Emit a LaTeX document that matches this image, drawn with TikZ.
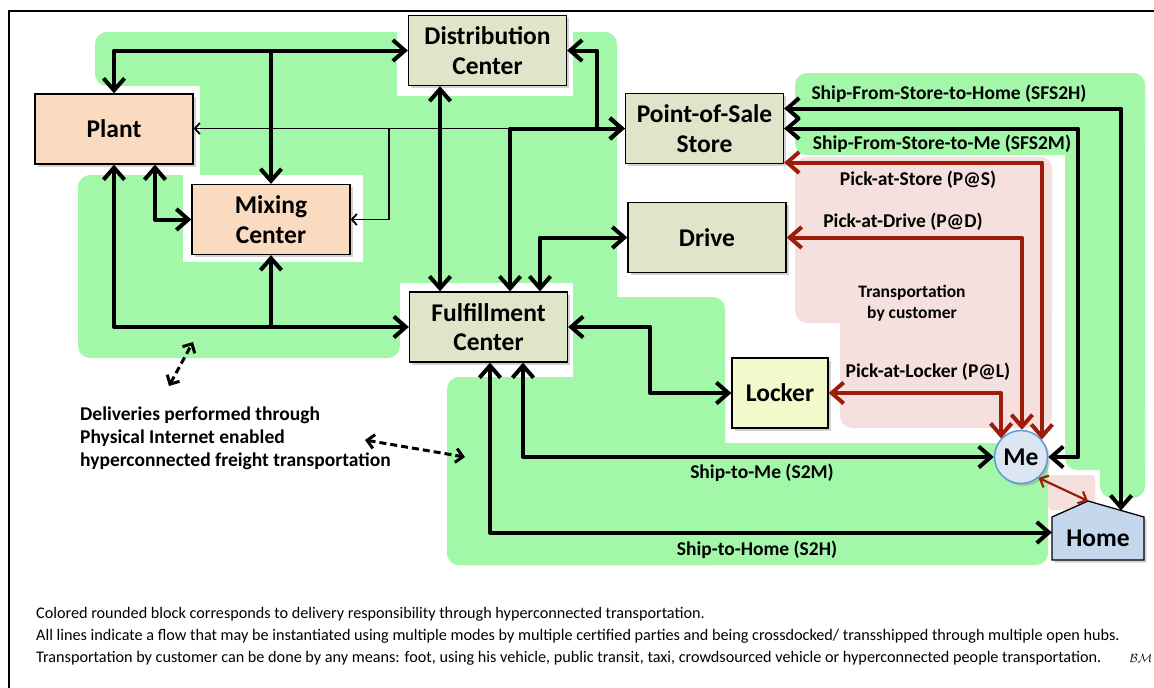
\documentclass[tikz,border=0pt]{standalone}
\usepackage{fontspec}
\setmainfont{Carlito}
\usetikzlibrary{arrows.meta,shadows,calc}

\definecolor{blockgreen}{HTML}{A3F7A9}
\definecolor{custpink}{HTML}{F5E0DE}
\definecolor{peach}{HTML}{FBDBC0}
\definecolor{olive}{HTML}{DEE5C9}
\definecolor{lockeryellow}{HTML}{F3F9CB}
\definecolor{mefill}{HTML}{DCE6F2}
\definecolor{meline}{HTML}{5B9BD5}
\definecolor{homefill}{HTML}{C5D7EC}
\definecolor{pickred}{HTML}{9E1C0A}

\begin{document}
\begin{tikzpicture}[x=1pt,y=-1pt,
  boxshadow/.style={drop shadow={shadow xshift=2.5pt,shadow yshift=-2.5pt,opacity=0.35}},
  box/.style={draw=black,line width=1.3pt,minimum width=158pt,minimum height=70pt,
    inner sep=0pt,align=center,font=\bfseries\fontsize{25.5}{29.5}\selectfont,
    text depth=-5pt,boxshadow},
  lbl/.style={font=\bfseries\fontsize{19.5}{22}\selectfont,inner sep=0pt},
  flow/.style={line width=4pt,line join=round,>={Straight Barb[length=12pt,width=21pt]}},
  thinflow/.style={line width=1.8pt,>={Straight Barb[length=5pt,width=11pt]}},
  redflow/.style={draw=pickred,line width=4pt,line join=round,>={Straight Barb[length=12pt,width=21pt]}},
  redthin/.style={draw=pickred,line width=2.2pt,>={Straight Barb[length=7pt,width=13pt]}},
  dashflow/.style={line width=3pt,dash pattern=on 7pt off 4pt,>={Straight Barb[length=7pt,width=14pt]}},
  greenblock/.style={fill=blockgreen,rounded corners=12pt},
  pinkblock/.style={fill=custpink,rounded corners=12pt}
]
\useasboundingbox (0,0) rectangle (1154,688);
\fill[white] (0,0) rectangle (1154,688);

% hyperconnected delivery blocks
\fill[greenblock] (95,32) rectangle (397,86);
\fill[greenblock] (200,32) rectangle (617,310);
\fill[greenblock] (78,175) rectangle (400,358);
\fill[greenblock] (573,297) rectangle (725,450);
\fill[greenblock] (447,377) rectangle (725,565);
\fill[greenblock] (447,443) rectangle (1048,565);
\fill[greenblock] (795,73) rectangle (1145,155);
\fill[greenblock] (1065,73) rectangle (1145,470);
\fill[greenblock] (1100,400) rectangle (1145,498);

% customer transportation blocks
\fill[pinkblock] (795,157) rectangle (1052,323);
\fill[pinkblock] (840,157) rectangle (1052,428);
\fill[custpink,rounded corners=4pt] (1048,475) rectangle (1095,510);

% clear margins around some facilities
\fill[white] (397,13) rectangle (573,96);
\fill[white] (183,175) rectangle (363,262);
\fill[white] (400,283) rectangle (573,377);

% facilities
\node[box,fill=peach] (plant) at (114,129) {Plant};
\node[box,fill=peach] (mix) at (271,219.5) {Mixing\\Center};
\node[box,fill=olive] (dist) at (487.5,50.5) {Distribution\\Center};
\node[box,fill=olive] (pos) at (704.5,128.5) {Point-of-Sale\\Store};
\node[box,fill=olive] (drive) at (707,237.5) {Drive};
\node[box,fill=olive] (fc) at (488.5,327) {Fulfillment\\Center};
\node[box,fill=lockeryellow,minimum width=96pt] (locker) at (780,393) {Locker};
\node[circle,draw=meline,line width=1.5pt,fill=mefill,minimum size=53pt,inner sep=0pt,
  font=\bfseries\fontsize{25.5}{29}\selectfont,boxshadow] (me) at (1021,457) {Me};

% home outline
\coordinate (hSW) at (1052,560);
\coordinate (hNW) at (1052,517);
\coordinate (hApex) at (1088,501);
\coordinate (hNE) at (1144,517);
\coordinate (hSE) at (1144,560);
\filldraw[fill=homefill,draw=black,line width=1.3pt,boxshadow]
  (hSW) -- (hNW) -- (hApex) -- (hNE) -- (hSE) -- cycle;
\node[minimum width=92pt,minimum height=43pt,inner sep=0pt,
  font=\bfseries\fontsize{25.5}{29}\selectfont] (home) at (1098,538.5) {Home};

% freight flows among facilities
\draw[thinflow,->] (pos.west) -- (pos.west -| plant.east);
\draw[thinflow,->] ([xshift=38pt]mix.east |- pos.west) |- (mix.east);
\draw[flow,<->] (plant.north) |- (dist.west);
\draw[flow,->] (mix.north |- dist.west) -- (mix.north);
\draw[flow,<->] (dist.east) -| ([xshift=-28pt]pos.west) -- (pos.west);
\draw[flow,<->] ([xshift=21.5pt]fc.north) |- (pos.west);
\draw[flow,<->] ([xshift=-47.5pt]dist.south) -- ([xshift=-47.5pt]dist.south |- fc.north);
\draw[flow,<->] ([xshift=51.5pt]fc.north) |- (drive.west);
\draw[flow,<->] ([xshift=41pt]plant.south) |- (mix.west);
\draw[flow,<->] (plant.south) |- (fc.west);
\draw[flow,->] (mix.south |- fc.west) -- (mix.south);
\draw[flow,<->] (fc.east) -- ++(82,0) |- (locker.west);

% deliveries to the customer
\draw[flow,<->] ([xshift=34.5pt]fc.south) |- (me.west);
\draw[flow,<->] ([xshift=1.5pt]fc.south) |- ([yshift=6pt]home.west);
\draw[flow,<->] ([yshift=20pt]pos.east) -| ($(hApex)!0.59!(hNE)$);
\draw[flow,<->] (pos.east) -- ++(294,0) |- (me.east);

% pick-up by the customer
\draw[redflow,<->] ([yshift=-34pt]pos.east) -| (me.40);
\draw[redflow,<->] (drive.east) -| (me.88);
\draw[redflow,<->] (locker.east) -| (me.137);
\draw[redthin,<->] (me.-50) -- (hApex);

% flow labels
\node[lbl] (lsfs2h) at (949,94) {Ship-From-Store-to-Home (SFS2H)};
\node[lbl] (lsfs2m) at (942,144) {Ship-From-Store-to-Me (SFS2M)};
\node[lbl] (lpas) at (918,180) {Pick-at-Store (P@S)};
\node[lbl] (lpad) at (903,222) {Pick-at-Drive (P@D)};
\node[lbl] (lpal) at (928,372) {Pick-at-Locker (P@L)};
\node[lbl] (ls2m) at (762,473) {Ship-to-Me (S2M)};
\node[lbl] (ls2h) at (757,550) {Ship-to-Home (S2H)};
\node[align=center,font=\bfseries\fontsize{17.5}{21}\selectfont,inner sep=0pt] (lcust) at (912,303.5)
  {Transportation\\by customer};

% explanation of the green blocks
\node[anchor=west,align=left,inner sep=0pt,font=\bfseries\fontsize{19.5}{23}\selectfont] (note) at (80,438)
  {Deliveries performed through\\Physical Internet enabled\\hyperconnected freight transportation};
\coordinate (dA1) at (169,386);
\coordinate (dA2) at (193,342);
\coordinate (dB1) at (365,440);
\coordinate (dB2) at (465,457);
\draw[dashflow,<->] (dA1) -- (dA2);
\draw[dashflow,<->] (dB1) -- (dB2);

% footnotes
\node[anchor=west,align=left,inner sep=0pt,font=\fontsize{16.2}{22}\selectfont] (foot) at (36,636)
  {Colored rounded block corresponds to delivery responsibility through hyperconnected transportation.\\
   All lines indicate a flow that may be instantiated using multiple modes by multiple certified parties and being crossdocked/ transshipped through multiple open hubs.\\
   Transportation by customer can be done by any means: foot, using his vehicle, public transit, taxi, crowdsourced vehicle or hyperconnected people transportation.};
\node[inner sep=0pt,font=\fontsize{13}{13}\selectfont] (sig) at (1141,658) {$\mathcal{BM}$};

% frame
\draw[line width=2pt] (9,688) -- (9,11) -- (1154,11);
\end{tikzpicture}
\end{document}
